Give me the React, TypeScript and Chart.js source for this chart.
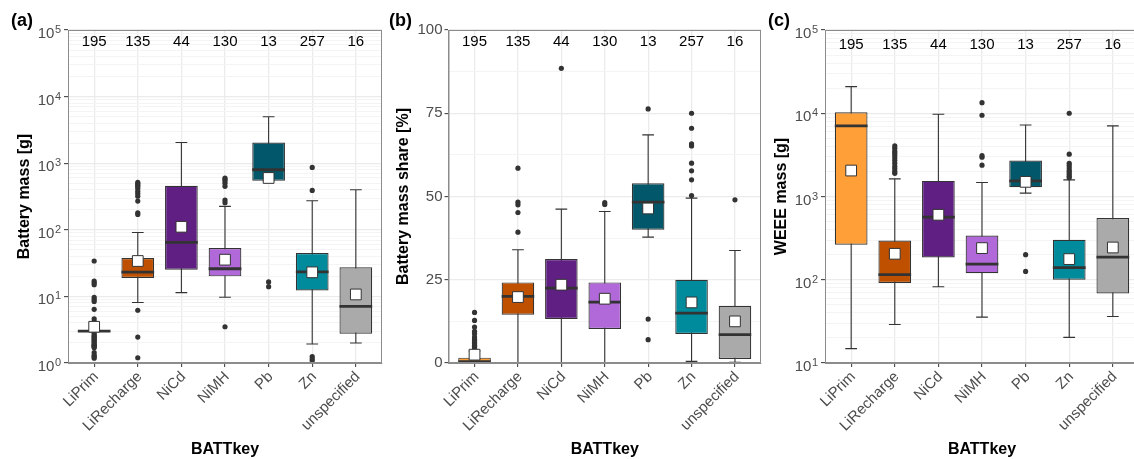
import React, { useEffect, useRef } from 'react';
import { Chart, registerables } from 'chart.js';

Chart.register(...registerables);
Chart.defaults.font.family = "'Liberation Sans', Arial, sans-serif";

// ---------- shared ----------
const categories = ['LiPrim', 'LiRecharge', 'NiCd', 'NiMH', 'Pb', 'Zn', 'unspecified'];
const counts = [195, 135, 44, 130, 13, 257, 16];
const boxColors = ['#FF9F38', '#BE5000', '#601F82', '#B168D9', '#02586A', '#008B9C', '#AAAAAA'];

// ---------- panel (a) Battery mass [g] ----------
const aYMajors = [1, 10, 100, 1000, 10000, 100000];
const aWhiskerLow = [3, 8.1, 11.4, 9.7, 546, 1.93, 2.0];
const aQ1 = [3, 18.9, 25.2, 20, 546, 12.3, 2.75];
const aMedian = [3, 23.2, 64.7, 26, 798, 23.3, 7.07];
const aQ3 = [3, 37.7, 459, 53.3, 2050, 44.9, 27.3];
const aWhiskerHigh = [3, 91, 2050, 225, 4990, 273, 400];
const aMean = [3.5, 34, 111, 35.6, 600, 23, 10.7];
const aOutliers = [
  [34, 17, 16, 15, 9.7, 9.0, 8.4, 6.4, 4.6, 4.2, 2.8, 2.6, 2.5, 2.4, 2.3, 2.2, 2.1, 2.0, 1.9, 1.85, 1.8, 1.75, 1.7, 1.43, 1.3, 1.25, 1.18],
  [515, 490, 470, 450, 420, 380, 350, 320, 270, 180, 170, 6.2, 2.45, 1.2],
  [],
  [600, 570, 540, 500, 450, 280, 255, 3.5],
  [16.5, 14],
  [865, 390, 1.25, 1.15, 1.08],
  [],
];

// ---------- panel (b) Battery mass share [%] ----------
const bYMajors = [0, 25, 50, 75, 100];
const bWhiskerLow = [0, 0, 0, 0, 37.8, 0.5, 0.2];
const bQ1 = [0.2, 14.5, 13.2, 10.2, 40, 8.7, 1.2];
const bMedian = [0.4, 20, 22.5, 18.3, 48.3, 15, 8.5];
const bQ3 = [1.6, 24.2, 31.2, 24.2, 54, 25, 17.2];
const bWhiskerHigh = [3.6, 34, 46.2, 45.5, 68.5, 49.5, 33.8];
const bMean = [2.5, 19.8, 23.5, 19.3, 46.4, 18.2, 12.5];
const bOutliers = [
  [15.2, 12.8, 10.8, 9.5, 8.8, 7.8, 7.2, 6.8, 6.2, 5.8, 5.3, 5.0, 4.6, 4.2, 3.9],
  [58.5, 48.3, 47.5, 45.2, 39.3],
  [88.5],
  [48.2, 47.6],
  [76.3, 13.2, 7],
  [75, 70.5, 65.8, 65.2, 60, 57.7, 55, 50.3],
  [49],
];

// ---------- panel (c) WEEE mass [g] ----------
const cYMajors = [10, 100, 1000, 10000, 100000];
const cWhiskerLow = [14.9, 29, 82.4, 35.6, 1097, 20.3, 36.2];
const cQ1 = [263, 91.5, 185, 120, 1295, 100, 68.4];
const cMedian = [7050, 115, 565, 154, 1540, 140, 187];
const cQ3 = [10280, 296, 1540, 340, 2700, 302, 550];
const cWhiskerHigh = [20900, 1630, 9730, 1470, 7240, 1585, 7050];
const cMean = [2050, 205, 603, 240, 1500, 177, 244];
const cOutliers = [
  [],
  [4050, 3800, 3500, 3300, 3100, 2900, 2700, 2500, 2300, 2150, 2000, 1900],
  [],
  [13400, 9460, 3090, 2960, 2380],
  [200, 126],
  [10000, 3220, 2500, 2350, 2200, 2050, 1950, 1850, 1750, 1680],
  [],
];

type PanelCfg = {
  tag: string;
  title: string;
  log: boolean;
  majors: number[];
  wl: number[]; q1: number[]; med: number[]; q3: number[]; wh: number[]; mean: number[];
  outliers: number[][];
  countY: number;
  left: number; width: number; yWidth: number; titlePad: number; tagX: number;
};

const panels: PanelCfg[] = [
  { tag: '(a)', title: 'Battery mass [g]', log: true, majors: aYMajors, wl: aWhiskerLow, q1: aQ1, med: aMedian, q3: aQ3, wh: aWhiskerHigh, mean: aMean, outliers: aOutliers, countY: 66000, left: 0, width: 384, yWidth: 68, titlePad: 15, tagX: 11 },
  { tag: '(b)', title: 'Battery mass share [%]', log: false, majors: bYMajors, wl: bWhiskerLow, q1: bQ1, med: bMedian, q3: bQ3, wh: bWhiskerHigh, mean: bMean, outliers: bOutliers, countY: 96.5, left: 384, width: 379, yWidth: 64.5, titlePad: 10, tagX: 5 },
  { tag: '(c)', title: 'WEEE mass [g]', log: true, majors: cYMajors, wl: cWhiskerLow, q1: cQ1, med: cMedian, q3: cQ3, wh: cWhiskerHigh, mean: cMean, outliers: cOutliers, countY: 66000, left: 763, width: 378, yWidth: 62, titlePad: 9, tagX: 5 },
];

const HEIGHT = 459;
const DARK = '#333333';
const TICK_TEXT = '#4D4D4D';
const FONT = "'Liberation Sans', Arial, sans-serif";

function buildYTicks(p: PanelCfg) {
  const t: { value: number }[] = [];
  p.majors.forEach((m, k) => {
    t.push({ value: m });
    if (k < p.majors.length - 1) {
      if (p.log) {
        for (let j = 2; j <= 9; j++) t.push({ value: m * j });
      } else {
        t.push({ value: (m + p.majors[k + 1]) / 2 });
      }
    }
  });
  return t;
}

function Panel({ p }: { p: PanelCfg }) {
  const ref = useRef<HTMLCanvasElement | null>(null);
  useEffect(() => {
    if (!ref.current) return;
    const isMajor = (v: number) => p.majors.some((m) => Math.abs(m - v) < 1e-9 * Math.max(1, m));

    const boxPlugin = {
      id: 'boxExtras',
      beforeDatasetsDraw(chart: any) {
        const { ctx, chartArea, scales } = chart;
        const x = scales.x, y = scales.y;
        ctx.save();
        ctx.beginPath();
        ctx.rect(chartArea.left, chartArea.top, chartArea.right - chartArea.left, chartArea.bottom - chartArea.top);
        ctx.clip();
        ctx.strokeStyle = DARK;
        ctx.lineWidth = 1.1;
        categories.forEach((_, i) => {
          const px = x.getPixelForValue(i + 1);
          const half = x.getPixelForValue(i + 1 + 0.135) - px;
          const yl = y.getPixelForValue(p.wl[i]);
          const yh = y.getPixelForValue(p.wh[i]);
          ctx.beginPath();
          ctx.moveTo(px, yl);
          ctx.lineTo(px, yh);
          ctx.moveTo(px - half, yl);
          ctx.lineTo(px + half, yl);
          ctx.moveTo(px - half, yh);
          ctx.lineTo(px + half, yh);
          ctx.stroke();
        });
        ctx.restore();
      },
      afterDatasetDraw(chart: any, args: any) {
        if (args.meta.type !== 'bar') return;
        const { ctx, scales } = chart;
        const y = scales.y;
        ctx.save();
        ctx.strokeStyle = DARK;
        ctx.lineWidth = 2.8;
        args.meta.data.forEach((el: any, i: number) => {
          const { x: bx, width } = el.getProps(['x', 'width'], true);
          const ym = y.getPixelForValue(p.med[i]);
          ctx.beginPath();
          ctx.moveTo(bx - width / 2, ym);
          ctx.lineTo(bx + width / 2, ym);
          ctx.stroke();
        });
        ctx.restore();
      },
      afterDatasetsDraw(chart: any) {
        const { ctx, chartArea, scales } = chart;
        const x = scales.x, y = scales.y;
        ctx.save();
        // panel border
        ctx.strokeStyle = '#8C8C8C';
        ctx.lineWidth = 1;
        ctx.strokeRect(chartArea.left + 0.5, chartArea.top + 0.5, chartArea.right - chartArea.left - 1, chartArea.bottom - chartArea.top - 1);
        // counts
        ctx.fillStyle = '#000';
        ctx.font = `15px ${FONT}`;
        ctx.textAlign = 'center';
        ctx.textBaseline = 'middle';
        const cy = y.getPixelForValue(p.countY);
        counts.forEach((n, i) => {
          ctx.fillText(String(n), x.getPixelForValue(i + 1), cy);
        });
        ctx.restore();
      },
      afterDraw(chart: any) {
        const { ctx, chartArea, scales } = chart;
        const y = scales.y;
        ctx.save();
        // log-axis tick labels with real superscript exponents
        if (p.log) {
          ctx.fillStyle = TICK_TEXT;
          ctx.textBaseline = 'alphabetic';
          ctx.textAlign = 'right';
          const xr = chartArea.left - 7;
          p.majors.forEach((m) => {
            const py = y.getPixelForValue(m);
            const exp = String(Math.round(Math.log10(m)));
            ctx.font = `11px ${FONT}`;
            const ew = ctx.measureText(exp).width;
            ctx.fillText(exp, xr, py + 3);
            ctx.font = `15px ${FONT}`;
            ctx.fillText('10', xr - ew - 0.5, py + 8);
          });
        }
        // panel tag
        ctx.fillStyle = '#000';
        ctx.font = `bold 18px ${FONT}`;
        ctx.textAlign = 'left';
        ctx.textBaseline = 'middle';
        ctx.fillText(p.tag, p.tagX, 21);
        ctx.restore();
      },
    };

    const chart = new Chart(ref.current, {
      type: 'bar',
      data: {
        datasets: [
          {
            type: 'bar',
            data: categories.map((_, i) => ({ x: i + 1, y: [p.q1[i], p.q3[i]] })),
            backgroundColor: boxColors,
            borderColor: DARK,
            borderWidth: 1.2,
            borderSkipped: false,
            categoryPercentage: 1,
            barPercentage: 0.75,
            order: 3,
          } as any,
          {
            type: 'scatter',
            data: p.outliers.flatMap((arr, i) => arr.map((v) => ({ x: i + 1, y: v }))),
            pointRadius: 2.6,
            pointBackgroundColor: DARK,
            pointBorderWidth: 0,
            order: 2,
          } as any,
          {
            type: 'scatter',
            data: p.mean.map((m, i) => ({ x: i + 1, y: m })),
            pointStyle: 'rect',
            pointRadius: 7.6,
            pointBackgroundColor: '#FFFFFF',
            pointBorderColor: DARK,
            pointBorderWidth: 1,
            order: 1,
          } as any,
        ],
      },
      options: {
        responsive: false,
        maintainAspectRatio: false,
        animation: false,
        events: [],
        layout: { autoPadding: false, padding: { left: 0, right: 2, top: 30, bottom: 0 } },
        plugins: { legend: { display: false }, tooltip: { enabled: false } },
        scales: {
          x: {
            type: 'linear',
            min: 0.4,
            max: 7.6,
            offset: false,
            afterBuildTicks: (s: any) => {
              s.ticks = categories.map((_, i) => ({ value: i + 1 }));
            },
            afterFit: (s: any) => {
              s.height = 96;
              s.paddingLeft = 0;
              s.paddingRight = 0;
            },
            ticks: {
              autoSkip: false,
              minRotation: 45,
              maxRotation: 45,
              color: TICK_TEXT,
              font: { size: 15 },
              padding: 1,
              labelOffset: 2,
              callback: (v: any) => categories[Math.round(v) - 1] ?? '',
            },
            grid: { offset: false, color: '#EBEBEB', lineWidth: 1.3, tickLength: 4, tickColor: DARK, tickWidth: 1 },
            border: { display: true, color: '#8C8C8C', width: 1 },
            title: { display: true, text: 'BATTkey', color: '#000', font: { size: 16, weight: 'bold' }, padding: { top: 0, bottom: 0 } },
          } as any,
          y: {
            type: p.log ? 'logarithmic' : 'linear',
            min: p.majors[0],
            max: p.majors[p.majors.length - 1],
            beginAtZero: false,
            afterBuildTicks: (s: any) => {
              s.ticks = buildYTicks(p);
            },
            afterFit: (s: any) => {
              s.width = p.yWidth;
            },
            ticks: {
              autoSkip: false,
              color: TICK_TEXT,
              font: { size: 15 },
              padding: 2,
              callback: (v: any) => {
                const n = Number(v);
                if (p.log || !isMajor(n)) return '';
                return String(n);
              },
            },
            grid: {
              color: (c: any) => (c.tick && isMajor(c.tick.value) ? '#EBEBEB' : '#F4F4F4'),
              lineWidth: (c: any) => (c.tick && isMajor(c.tick.value) ? 1.3 : 1),
              tickLength: 4,
              tickColor: (c: any) => (c.tick && isMajor(c.tick.value) ? DARK : 'rgba(0,0,0,0)'),
              tickWidth: 1,
            },
            border: { display: true, color: '#8C8C8C', width: 1 },
            title: { display: true, text: p.title, color: '#000', font: { size: 16, weight: 'bold' }, padding: { top: p.titlePad, bottom: 0 } },
          } as any,
        },
      },
      plugins: [boxPlugin as any],
    });
    return () => chart.destroy();
  }, [p]);

  return (
    <canvas
      ref={ref}
      width={p.width}
      height={HEIGHT}
      style={{ position: 'absolute', left: p.left, top: 0, width: p.width, height: HEIGHT }}
    />
  );
}

export default function App() {
  return (
    <div
      style={{
        position: 'fixed',
        left: 0,
        top: 0,
        width: 1134,
        height: HEIGHT,
        overflow: 'hidden',
        background: '#FFFFFF',
      }}
    >
      {panels.map((p) => (
        <Panel key={p.tag} p={p} />
      ))}
    </div>
  );
}
